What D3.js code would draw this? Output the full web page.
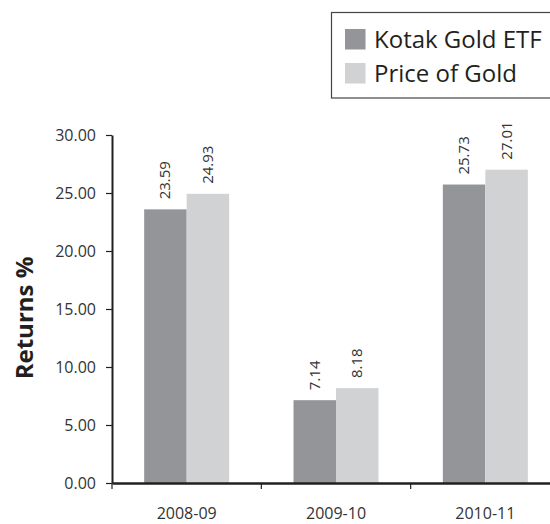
<!DOCTYPE html>
<html><head><meta charset="utf-8">
<script src="https://cdn.jsdelivr.net/npm/d3@7"></script>
<style>body{margin:0;background:#fff}svg{display:block}</style>
</head><body>
<script>
const categories = ["2008-09", "2009-10", "2010-11"];
const seriesNames = ["Kotak Gold ETF", "Price of Gold"];
const kotak = [23.59, 7.14, 25.73];
const gold = [24.93, 8.18, 27.01];
const yTicks = [0, 5, 10, 15, 20, 25, 30];
const colors = ["#939598", "#d1d2d4"];

const W = 550, H = 524;
const svg = d3.select("body").append("svg").attr("width", W).attr("height", H);
const font = "'Open Sans', 'Noto Sans', sans-serif";

const x0 = 112, y0 = 483;
const x = d3.scaleBand().domain(categories).range([x0, x0 + 448]).paddingInner(0).paddingOuter(0);
const y = d3.scaleLinear().domain([0, 30]).range([y0, 135]);
const xs = d3.scaleBand().domain(seriesNames).range([0, x.bandwidth()]).paddingOuter(0.757).paddingInner(0);

const data = categories.map((c, i) => ({c, vals: [kotak[i], gold[i]]}));

const g = svg.append("g");
const groups = g.selectAll("g.cat").data(data).join("g").attr("transform", d => `translate(${x(d.c)},0)`);
const items = d => d.vals.map((v, j) => ({v, s: seriesNames[j], j}));
groups.selectAll("rect").data(items)
  .join("rect")
  .attr("x", d => xs(d.s)).attr("width", xs.bandwidth())
  .attr("y", d => y(d.v)).attr("height", d => y0 - y(d.v))
  .attr("fill", d => colors[d.j]);

groups.selectAll("g.val").data(items)
  .join("g").attr("class", "val")
  .attr("transform", d => `translate(${xs(d.s) + xs.bandwidth() / 2 + 5},${y(d.v) - 10})`)
  .append("g").attr("transform", "rotate(-90)")
  .append("text")
  .attr("font-family", font).attr("font-size", 15).attr("fill", "#333")
  .text(d => d.v.toFixed(2));

// y axis
const yAxis = d3.axisLeft(y).tickValues(yTicks).tickFormat(d3.format(".2f")).tickSize(6).tickSizeOuter(0).tickPadding(10);
const ya = svg.append("g").attr("transform", `translate(${x0},0)`).call(yAxis);
ya.select(".domain").attr("stroke", "#231f20").attr("stroke-width", 2);
ya.selectAll(".tick line").attr("stroke", "#231f20").attr("stroke-width", 1.2);
ya.selectAll(".tick text").attr("font-family", font).attr("font-size", 16).attr("fill", "#333");

// x axis
const xAxis = d3.axisBottom(x).tickSize(0).tickSizeOuter(0).tickPadding(24.5);
const xa = svg.append("g").attr("transform", `translate(0,${y0})`).call(xAxis);
xa.select(".domain").attr("stroke", "#231f20").attr("stroke-width", 2.5);
xa.selectAll(".tick text").attr("font-family", font).attr("font-size", 16).attr("fill", "#333");
xa.selectAll("line.sep").data(categories.slice(1))
  .join("line").attr("class", "sep")
  .attr("x1", d => x(d)).attr("x2", d => x(d)).attr("y1", 0).attr("y2", 6)
  .attr("stroke", "#231f20").attr("stroke-width", 1.2);
xa.append("line").attr("x1", x0).attr("x2", x0).attr("y1", 0).attr("y2", 6)
  .attr("stroke", "#231f20").attr("stroke-width", 1.2);

// y label
svg.append("g").attr("transform", "translate(33,318)")
  .append("g").attr("transform", "rotate(-90)")
  .append("text")
  .attr("text-anchor", "middle")
  .attr("font-family", font).attr("font-size", 24).attr("font-weight", "bold").attr("fill", "#231f20")
  .text("Returns %");

// legend
const lg = svg.append("g");
lg.append("rect").attr("x", 331.5).attr("y", 12.5).attr("width", 240).attr("height", 85.5)
  .attr("fill", "none").attr("stroke", "#444").attr("stroke-width", 1.2);
seriesNames.forEach((s, i) => {
  lg.append("rect").attr("x", 345).attr("y", 29 + i * 34).attr("width", 20.5).attr("height", 20.5).attr("fill", colors[i]);
  lg.append("text").attr("x", 374).attr("y", 48 + i * 34)
    .attr("font-family", font).attr("font-size", 24).attr("fill", "#231f20").text(s);
});
</script>
</body></html>
